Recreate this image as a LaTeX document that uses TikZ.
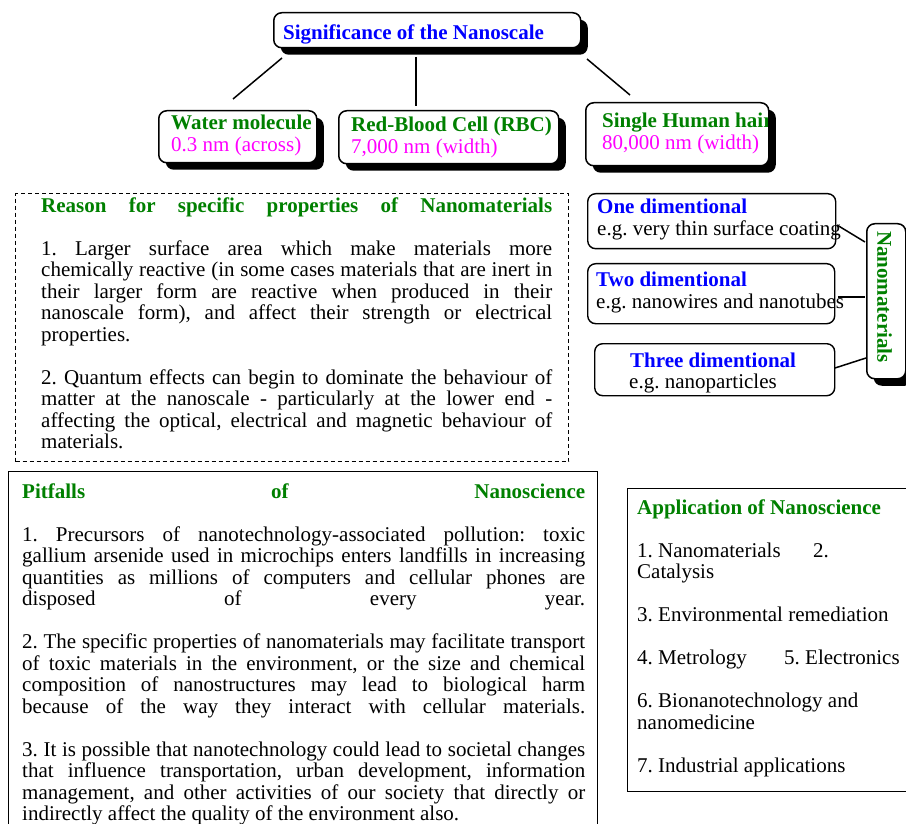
\documentclass[tikz,border=0pt]{standalone}
\usepackage{fontspec}
\setmainfont{Liberation Serif}
\usetikzlibrary{shadows}
\definecolor{tgreen}{RGB}{0,128,0}
\definecolor{tblue}{RGB}{0,0,255}
\definecolor{tmag}{RGB}{255,0,255}
\newcommand{\jl}[2]{\makebox[#1][s]{#2}}
\frenchspacing
\tikzset{
 txt/.style={font=\fontsize{21}{21.5}\selectfont, inner sep=0pt, anchor=base west, align=left},
 hd/.style={font=\fontsize{21}{21.5}\selectfont\bfseries, inner sep=0pt, anchor=base west, align=left},
 sbox/.style={draw, line width=1.5pt, rounded corners=8pt, fill=white, inner sep=0pt, anchor=north west,
   drop shadow={shadow xshift=7pt, shadow yshift=-7pt, fill=black, opacity=1}},
 pbox/.style={draw, line width=1.4pt, rounded corners=8pt, fill=white, inner sep=0pt, anchor=north west},
 rbox/.style={draw, line width=1.3pt, inner sep=0pt, anchor=north west},
 conn/.style={line width=1.5pt},
}
\begin{document}
\begin{tikzpicture}[x=1pt,y=-1pt]
\clip (0,0) rectangle (906,824);
\fill[white] (0,0) rectangle (906,824);

% connectors (top)
\coordinate (c1a) at (282,58); \coordinate (c1b) at (233,99);
\coordinate (c2a) at (416,57); \coordinate (c2b) at (416,106);
\coordinate (c3a) at (587,59); \coordinate (c3b) at (630,95);
\draw[conn] (c1a) -- (c1b);
\draw[conn] (c2a) -- (c2b);
\draw[conn] (c3a) -- (c3b);

% top box
\node[sbox, minimum width=307pt, minimum height=35pt] (sig) at (273,12) {};
\node[hd, text=tblue] (sigt) at (283,40) {Significance of the Nanoscale};

% water
\node[sbox, minimum width=158pt, minimum height=52pt] (water) at (158,110) {};
\node[hd, text=tgreen] (watert) at (171,130) {Water molecule};
\node[txt, text=tmag] (waterv) at (171,151.5) {0.3 nm (across)};

% RBC
\node[sbox, minimum width=220pt, minimum height=53pt] (rbc) at (338,110) {};
\node[hd, text=tgreen] (rbct) at (351,132) {Red-Blood Cell (RBC)};
\node[txt, text=tmag] (rbcv) at (351,153.5) {7,000 nm (width)};

% hair
\node[sbox, minimum width=183pt, minimum height=63pt] (hair) at (585,102) {};
\begin{scope}
\clip (585,102) rectangle (767,165);
\node[hd, text=tgreen] (hairt) at (602,128) {Single Human hair};
\node[txt, text=tmag] (hairv) at (602,149.5) {80,000 nm (width)};
\end{scope}

% nanomaterials
\node[pbox, minimum width=248pt, minimum height=55pt] (one) at (587,193) {};
\node[hd, text=tblue] (onet) at (597,214) {One dimentional};
\node[txt] (onev) at (597,236) {e.g. very thin surface coating};

\node[pbox, minimum width=247pt, minimum height=60pt] (two) at (587,263) {};
\node[hd, text=tblue] (twot) at (596,287) {Two dimentional};
\node[txt] (twov) at (596,308.5) {e.g. nanowires and nanotubes};

\node[pbox, minimum width=240pt, minimum height=52pt] (three) at (594,343) {};
\node[hd, text=tblue] (threet) at (630,367) {Three dimentional};
\node[txt] (threev) at (629,388.5) {e.g. nanoparticles};

\node[sbox, minimum width=39pt, minimum height=155pt] (nano) at (866,223) {};
\node[font=\fontsize{21}{21.5}\selectfont\bfseries, text=tgreen, rotate=-90, inner sep=0pt] (nanot) at (884.5,297) {Nanomaterials};

\coordinate (n1a) at (837,225); \coordinate (n1b) at (865,242);
\coordinate (n2a) at (838,297); \coordinate (n2b) at (865,297);
\coordinate (n3a) at (835,368); \coordinate (n3b) at (866,358);
\draw[conn] (n1a) -- (n1b);
\draw[conn] (n2a) -- (n2b);
\draw[conn] (n3a) -- (n3b);

% reason box (text node anchored at the baseline of its last line)
\node[rbox, dash pattern=on 4pt off 3pt, minimum width=553pt, minimum height=268pt] (reason) at (15,193) {};
\node[txt] (reasont) at (41,448.5) {%
\jl{511pt}{\bfseries\color{tgreen}Reason for specific properties of Nanomaterials}\\[21.5pt]
\jl{511pt}{1. Larger surface area which make materials more}\\
\jl{511pt}{chemically reactive (in some cases materials that are inert in}\\
\jl{511pt}{their larger form are reactive when produced in their}\\
\jl{511pt}{nanoscale form), and affect their strength or electrical}\\
properties.\\[21.5pt]
\jl{511pt}{2. Quantum effects can begin to dominate the behaviour of}\\
\jl{511pt}{matter at the nanoscale - particularly at the lower end -}\\
\jl{511pt}{affecting the optical, electrical and magnetic behaviour of}\\
materials.};

% pitfalls box
\node[rbox, minimum width=589pt, minimum height=400pt] (pit) at (8,471) {};
\node[txt] (pitt) at (22,820.5) {%
\jl{563pt}{\bfseries\color{tgreen}Pitfalls of Nanoscience}\\[21.5pt]
\jl{563pt}{1. Precursors of nanotechnology-associated pollution: toxic}\\
\jl{563pt}{gallium arsenide used in microchips enters landfills in increasing}\\
\jl{563pt}{quantities as millions of computers and cellular phones are}\\
\jl{563pt}{disposed of every year.}\\[21.5pt]
\jl{563pt}{2. The specific properties of nanomaterials may facilitate transport}\\
\jl{563pt}{of toxic materials in the environment, or the size and chemical}\\
\jl{563pt}{composition of nanostructures may lead to biological harm}\\
\jl{563pt}{because of the way they interact with cellular materials.}\\[21.5pt]
\jl{563pt}{3. It is possible that nanotechnology could lead to societal changes}\\
\jl{563pt}{that influence transportation, urban development, information}\\
\jl{563pt}{management, and other activities of our society that directly or}\\
indirectly affect the quality of the environment also.};

% application box
\node[rbox, minimum width=300pt, minimum height=303pt] (app) at (627,488) {};
\node[txt] (appt) at (637,772) {%
{\bfseries\color{tgreen}Application of Nanoscience}\\[21.5pt]
\makebox[176pt][l]{1. Nanomaterials}2.\\
Catalysis\\[21.5pt]
3. Environmental remediation\\[21.5pt]
\makebox[147pt][l]{4. Metrology}5. Electronics\\[21.5pt]
6. Bionanotechnology and\\
nanomedicine\\[21.5pt]
7. Industrial applications};
\end{tikzpicture}
\end{document}
